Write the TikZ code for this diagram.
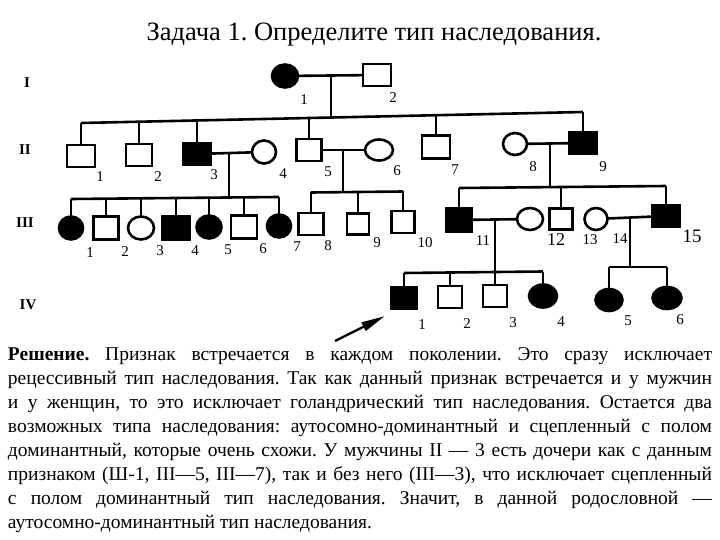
\documentclass[tikz,border=0pt]{standalone}
\usepackage{fontspec}
\setmainfont{Liberation Serif}
\usetikzlibrary{shapes.geometric,arrows.meta}
\frenchspacing
\begin{document}
\begin{tikzpicture}[x=1pt,y=-1pt,
  every node/.style={inner sep=0pt, outer sep=0pt},
  ln/.style={line width=2.6pt},
  male/.style={draw, line width=2.6pt, rectangle, minimum width=26pt, minimum height=22pt, fill=white},
  female/.style={draw, line width=2.6pt, ellipse, minimum width=25pt, minimum height=22pt, fill=white},
  aff/.style={fill=black},
  num/.style={font=\fontsize{15}{15}\selectfont},
  gen/.style={font=\fontsize{15}{15}\selectfont\bfseries},
  txt/.style={anchor=base west, font=\fontsize{19.5}{24}\selectfont},
]
\fill[white] (0,0) rectangle (720,540);
\useasboundingbox (0,0) rectangle (720,540);

% title
\node[font=\fontsize{26.5}{26.5}\selectfont] (title) at (374,35) {Задача 1. Определите тип наследования.};

% generation labels
\node[gen] (gI) at (27,83) {I};
\node[gen] (gII) at (25,150) {II};
\node[gen] (gIII) at (25,223) {III};
\node[gen] (gIV) at (28,305) {IV};

% ---------- generation I
\node[female,aff,minimum width=26pt,minimum height=23pt] (I1) at (285,76) {};
\node[male,minimum width=28pt,minimum height=22pt] (I2) at (377,75) {};
\draw[ln] (I1) -- (I2);
\coordinate (m1) at (331,75.5);
\coordinate (s1) at (331,117.5);
\draw[ln] (m1) -- (s1);
\node[num] (lI1) at (304,100) {1};
\node[num] (lI2) at (393,98) {2};

% ---------- generation II
\node[male,minimum width=28pt] (II1) at (81,156) {};
\node[male] (II2) at (139,155) {};
\node[male,aff,minimum width=28pt] (II3) at (197,154) {};
\node[female,minimum width=24pt,minimum height=23pt] (II4) at (264,152) {};
\node[male,minimum width=25pt] (II5) at (309,150) {};
\node[female,minimum width=28pt,minimum height=21pt] (II6) at (379,150) {};
\node[male,minimum width=28pt,minimum height=23pt] (II7) at (436,147) {};
\node[female,minimum width=24pt] (II8) at (515,144) {};
\node[male,aff,minimum width=27pt] (II9) at (583,143) {};

\coordinate (sL) at (81,123);
\coordinate (sR) at (583,112);
\draw[ln] (sL) -- (sR);
\coordinate (s22) at (139,121.7);
\coordinate (s23) at (197,120.4);
\coordinate (s25) at (309,118);
\coordinate (s27) at (436,115.2);
\draw[ln] (sL) -- (II1);
\draw[ln] (s22) -- (II2);
\draw[ln] (s23) -- (II3);
\draw[ln] (s25) -- (II5);
\draw[ln] (s27) -- (II7);
\draw[ln] (sR) -- (II9);

\draw[ln] (II3) -- (II4);
\draw[ln] (II5) -- (II6);
\draw[ln] (II8) -- (II9);

\node[num] (lII1) at (100,177) {1};
\node[num] (lII2) at (158,177) {2};
\node[num] (lII3) at (214,175) {3};
\node[num] (lII4) at (283,174) {4};
\node[num] (lII5) at (328,172) {5};
\node[num] (lII6) at (397,171) {6};
\node[num] (lII7) at (455,170) {7};
\node[num] (lII8) at (533,167) {8};
\node[num] (lII9) at (603,167) {9};

% descents to III
\coordinate (m2) at (229,153);
\coordinate (d2) at (229,198);
\draw[ln] (m2) -- (d2);
\coordinate (m3) at (343,150);
\coordinate (d3) at (343,192);
\draw[ln] (m3) -- (d3);
\coordinate (m4) at (550,144);
\coordinate (d4) at (550,187);
\draw[ln] (m4) -- (d4);

% ---------- generation III
\node[female,aff,minimum width=24pt,minimum height=23pt] (III1) at (71,228) {};
\node[male,minimum width=25pt,minimum height=23pt] (III2) at (106,228) {};
\node[female,minimum width=26pt,minimum height=23pt] (III3) at (141,228) {};
\node[male,aff,minimum width=27pt,minimum height=23pt] (III4) at (176,228) {};
\node[female,aff,minimum width=25pt,minimum height=23pt] (III5) at (209,227) {};
\node[male,minimum width=26pt,minimum height=23pt] (III6) at (244,227) {};
\node[female,aff,minimum width=24pt,minimum height=23pt] (III7) at (279,226) {};

\coordinate (a1) at (71,199);
\coordinate (a2) at (106,198.6);
\coordinate (a3) at (141,198.3);
\coordinate (a4) at (176,198);
\coordinate (a5) at (209,197.7);
\coordinate (a6) at (244,197.3);
\coordinate (a7) at (279,197);
\draw[ln] (a1) -- (a7);
\foreach \i in {1,...,7}{\draw[ln] (a\i) -- (III\i);}

\node[male,minimum width=25pt,minimum height=22pt] (III8) at (311,224) {};
\node[male,minimum width=22pt,minimum height=21pt] (III9) at (358,224) {};
\node[male,minimum width=23pt,minimum height=22pt] (III10) at (403,222) {};
\coordinate (b1) at (311,192.5);
\coordinate (b2) at (358,192);
\coordinate (b3) at (403,191.5);
\draw[ln] (b1) -- (b3);
\draw[ln] (b1) -- (III8);
\draw[ln] (b2) -- (III9);
\draw[ln] (b3) -- (III10);

\node[male,aff,minimum width=25pt,minimum height=23pt] (III11) at (459,220) {};
\node[female,minimum width=26pt,minimum height=22pt] (W11) at (530,219) {};
\node[male,minimum width=23pt,minimum height=21pt] (III12) at (561,219) {};
\node[female,minimum width=23pt,minimum height=22pt] (III13) at (596,219) {};
\node[male,aff,minimum width=27pt,minimum height=22pt] (III15) at (666,216) {};
\coordinate (c1) at (459,188);
\coordinate (c2) at (561,187);
\coordinate (c3) at (666,186);
\draw[ln] (c1) -- (c3);
\draw[ln] (c1) -- (III11);
\draw[ln] (c2) -- (III12);
\draw[ln] (c3) -- (III15);
\draw[ln] (III11) -- (W11);
\draw[ln] (III13) -- (III15);

\node[num] (lIII1) at (90,253) {1};
\node[num] (lIII2) at (125,252) {2};
\node[num] (lIII3) at (160,251) {3};
\node[num] (lIII4) at (195,251) {4};
\node[num] (lIII5) at (228,250) {5};
\node[num] (lIII6) at (263,249) {6};
\node[num] (lIII7) at (297,247) {7};
\node[num] (lIII8) at (328,246) {8};
\node[num] (lIII9) at (377,243) {9};
\node[num] (lIII10) at (425,243) {10};
\node[num] (lIII11) at (483,241) {11};
\node[font=\fontsize{18}{18}\selectfont] (lIII12) at (556,240) {12};
\node[num] (lIII13) at (590,240) {13};
\node[num] (lIII14) at (620,239) {14};
\node[font=\fontsize{19}{19}\selectfont] (lIII15) at (692,236) {15};

% descents to IV
\coordinate (m5) at (495,219.5);
\coordinate (d5) at (495,272);
\draw[ln] (m5) -- (d5);
\coordinate (m6) at (630,217.5);
\coordinate (d6) at (630,267);
\draw[ln] (m6) -- (d6);

% ---------- generation IV
\node[male,aff,minimum width=25pt,minimum height=21pt] (IV1) at (404,298) {};
\node[male,minimum width=24pt,minimum height=22pt] (IV2) at (450,297) {};
\node[male,minimum width=24pt,minimum height=22pt] (IV3) at (495,296) {};
\node[female,aff,minimum width=28pt,minimum height=23pt] (IV4) at (543,296) {};
\coordinate (e1) at (404,273);
\coordinate (e2) at (450,272.5);
\coordinate (e4) at (543,271.5);
\draw[ln] (e1) -- (e4);
\draw[ln] (e1) -- (IV1);
\draw[ln] (e2) -- (IV2);
\draw[ln] (d5) -- (IV3);
\draw[ln] (e4) -- (IV4);

\node[female,aff,minimum width=27pt,minimum height=22pt] (IV5) at (609,300) {};
\node[female,aff,minimum width=29pt,minimum height=22pt] (IV6) at (667,298) {};
\coordinate (f1) at (609,267);
\coordinate (f2) at (667,267);
\draw[ln] (f1) -- (f2);
\draw[ln] (f1) -- (IV5);
\draw[ln] (f2) -- (IV6);

\node[num] (lIV1) at (422,325) {1};
\node[num] (lIV2) at (467,324) {2};
\node[num] (lIV3) at (513,323) {3};
\node[num] (lIV4) at (561,322) {4};
\node[num] (lIV5) at (628,321) {5};
\node[num] (lIV6) at (680,320) {6};

% proband arrow
\coordinate (arT) at (335,341);
\coordinate (arH) at (385,316);
\draw[line width=2.4pt,-{Triangle[length=24pt,width=9pt]}] (arT) -- (arH);

% ---------- solution text
\node[txt] (t1) at (8,360) {\makebox[704pt][s]{\textbf{Решение.} Признак встречается в каждом поколении. Это сразу исключает}};
\node[txt] (t2) at (8,384.1) {\makebox[704pt][s]{рецессивный тип наследования. Так как данный признак встречается и у мужчин}};
\node[txt] (t3) at (8,408.2) {\makebox[704pt][s]{и у женщин, то это исключает голандрический тип наследования. Остается два}};
\node[txt] (t4) at (8,432.3) {\makebox[704pt][s]{возможных типа наследования: аутосомно-доминантный и сцепленный с полом}};
\node[txt] (t5) at (8,456.4) {\makebox[704pt][s]{доминантный, которые очень схожи. У мужчины II — 3 есть дочери как с данным}};
\node[txt] (t6) at (8,480.5) {\makebox[704pt][s]{признаком (Ш-1, III—5, III—7), так и без него (III—3), что исключает сцепленный}};
\node[txt] (t7) at (8,504.6) {\makebox[704pt][s]{с полом доминантный тип наследования. Значит, в данной родословной —}};
\node[txt] (t8) at (8,528.7) {аутосомно-доминантный тип наследования.};
\end{tikzpicture}
\end{document}
